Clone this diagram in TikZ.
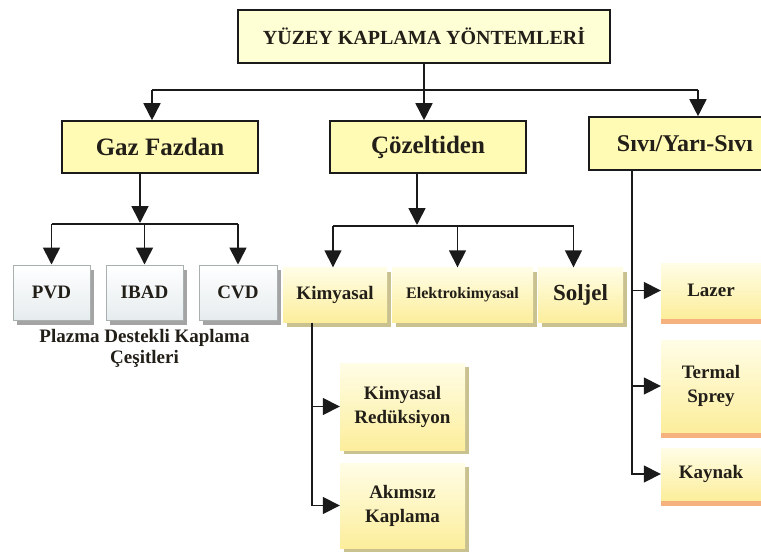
\documentclass[tikz,border=0pt]{standalone}
\usepackage{fontspec}
\setmainfont{Liberation Serif}
\usetikzlibrary{arrows.meta,shadows,calc}
\definecolor{txt}{HTML}{221E18}
\definecolor{ln}{HTML}{1A1A1A}
\definecolor{titlefill}{HTML}{FFFFD6}
\definecolor{lvlfill}{HTML}{FFFAB4}
\definecolor{ytop}{HTML}{FFFDE6}
\definecolor{ybot}{HTML}{FCEE9C}
\definecolor{yshadow}{HTML}{C9C290}
\definecolor{gtop}{HTML}{FFFFFF}
\definecolor{gbot}{HTML}{E6ECEE}
\definecolor{gborder}{HTML}{A9B0B0}
\definecolor{gshadow}{HTML}{A4A4A4}
\definecolor{salmon}{HTML}{F6B27E}
\begin{document}
\begin{tikzpicture}[x=1pt,y=-1pt,
  fnt/.style={font=\bfseries\fontsize{#1}{#1}\selectfont},
  titlebox/.style={draw=ln, line width=1.6pt, fill=titlefill, text=txt, inner sep=0pt,
    minimum width=372pt, minimum height=53pt, fnt=20},
  lvlbox/.style={draw=ln, line width=1.6pt, fill=lvlfill, text=txt, inner sep=0pt,
    minimum width=196pt, minimum height=52pt, fnt=25},
  graybox/.style={draw=gborder, line width=1pt, top color=gtop, bottom color=gbot, text=txt,
    inner sep=0pt, minimum width=77pt, minimum height=55pt, fnt=19,
    drop shadow={shadow xshift=4pt, shadow yshift=-5pt, fill=gshadow, opacity=1}},
  ybox/.style={top color=ytop, bottom color=ybot, text=txt, inner sep=0pt, align=center,
    minimum height=55pt, fnt=19,
    drop shadow={shadow xshift=4pt, shadow yshift=-4pt, fill=yshadow, opacity=1}},
  sbox/.style={top color=ytop, bottom color=ybot, text=txt, inner sep=0pt, align=center,
    minimum width=100pt, fnt=19,
    drop shadow={shadow xshift=0pt, shadow yshift=-6pt, fill=salmon, opacity=1}},
  lbl/.style={text=txt, align=center, inner sep=0pt, font=\bfseries\fontsize{19}{21}\selectfont},
  con/.style={draw=ln, line width=1.6pt},
  arr/.style={con, -{Triangle[length=17pt,width=17pt]}}
]
\useasboundingbox (0,0) rectangle (761,552);
\clip (0,0) rectangle (761,552);

% top
\node[titlebox] (top) at (424,36.5) {YÜZEY KAPLAMA YÖNTEMLERİ};

% level 2
\node[lvlbox] (gaz) at (160,147) {Gaz Fazdan};
\node[lvlbox] (coz) at (428,147) {Çözeltiden};
\node[lvlbox, minimum width=192pt, minimum height=53pt, fnt=24] (siv) at (685,143.5) {Sıvı/Yarı-Sıvı};

% gas phase children
\node[graybox] (pvd) at (51.5,292.5) {PVD};
\node[graybox] (ibad) at (144.5,292.5) {IBAD};
\node[graybox, minimum width=78pt] (cvd) at (238,292.5) {CVD};
\node[lbl] (plz) at (144.5,348) {Plazma Destekli Kaplama\\Çeşitleri};

% solution children
\node[ybox, minimum width=104pt] (kim) at (335,295) {Kimyasal};
\node[ybox, minimum width=141pt, fnt=16] (elk) at (462.5,295) {Elektrokimyasal};
\node[ybox, minimum width=85pt, fnt=23] (sol) at (580.5,295) {Soljel};
\node[ybox, minimum width=125pt, minimum height=87pt, font=\bfseries\fontsize{19}{24}\selectfont] (red) at (402.5,406.5) {Kimyasal\\Redüksiyon};
\node[ybox, minimum width=125pt, minimum height=85pt, font=\bfseries\fontsize{19}{24}\selectfont] (akm) at (402.5,505.5) {Akımsız\\Kaplama};

% liquid children
\node[sbox, minimum height=55pt] (laz) at (711,290.5) {Lazer};
\node[sbox, minimum height=92pt, font=\bfseries\fontsize{19}{24}\selectfont] (trm) at (711,386) {Termal\\Sprey};
\node[sbox, minimum height=52pt] (kay) at (711,474) {Kaynak};

% connectors level 1
\coordinate (b1) at (152,90);
\coordinate (b2) at (698,90);
\draw[con] (b1) -- (b2);
\draw[arr] (top.south) -- (top.south |- coz.north);
\draw[arr] (b1) -- (b1 |- gaz.north);
\draw[arr] (b2) -- (b2 |- siv.north);

% gas phase connectors
\coordinate (gb) at (140,224);
\draw[arr] (gb |- gaz.south) -- ($(gb)+(0,-1)$);
\draw[con] (pvd.north |- gb) -- (cvd.north |- gb);
\draw[arr] (pvd.north |- gb) -- (pvd.north);
\draw[arr] (ibad.north |- gb) -- (ibad.north);
\draw[arr] (cvd.north |- gb) -- (cvd.north);

% solution connectors
\coordinate (cb) at (417,226);
\draw[arr] (cb |- coz.south) -- ($(cb)+(0,-1)$);
\draw[con] ($(kim.north |- cb)+(-2,0)$) -- ($(sol.north |- cb)+(-7,0)$);
\draw[arr] ($(kim.north |- cb)+(-2,0)$) -- ($(kim.north)+(-2,0)$);
\draw[arr] ($(elk.north |- cb)+(-5,0)$) -- ($(elk.north)+(-5,0)$);
\draw[arr] ($(sol.north |- cb)+(-7,0)$) -- ($(sol.north)+(-7,0)$);

% Kimyasal branch
\coordinate (kl) at (312,400);
\draw[arr] (kl |- kim.south) -- (kl |- akm.west) -- (akm.west);
\draw[arr] (kl |- red.west) -- (red.west);

% liquid branch
\coordinate (sl) at (632,400);
\draw[arr] (sl |- siv.south) -- (sl |- kay.west) -- (kay.west);
\draw[arr] (sl |- laz.west) -- (laz.west);
\draw[arr] (sl |- trm.west) -- (trm.west);
\end{tikzpicture}
\end{document}
